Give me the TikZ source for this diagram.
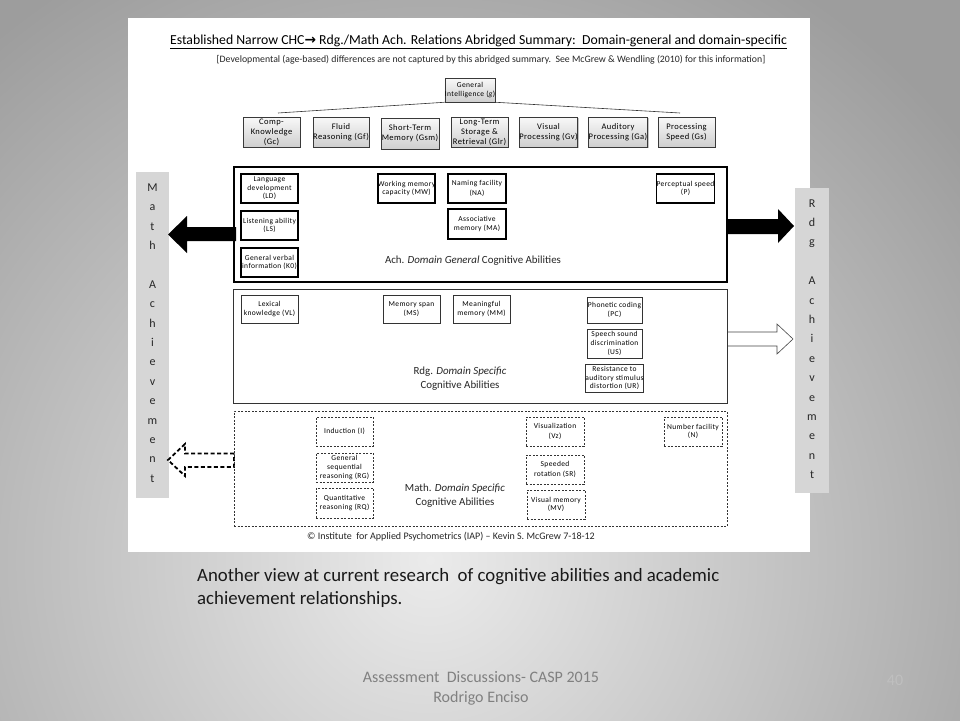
\documentclass[tikz,border=0pt]{standalone}
\usepackage{fontspec}
\setmainfont{Carlito}
\newfontfamily\smallf[LetterSpace=5]{Carlito}
\newfontfamily\dejavu{DejaVu Sans}
\usetikzlibrary{shadows}
\definecolor{bgin}{RGB}{235,235,235}
\definecolor{bgout}{RGB}{157,157,157}
\definecolor{barfill}{RGB}{214,214,214}
\definecolor{foot}{RGB}{128,128,128}
\pgfdeclareradialshading{bgshade}{\pgfpoint{0bp}{0bp}}{color(0bp)=(bgin); color(25bp)=(bgout); color(50bp)=(bgout)}
\begin{document}
\begin{tikzpicture}[x=1pt,y=-1pt,
  chc/.style={draw=gray!45!black, line width=0.5pt, top color=gray!5, bottom color=gray!38,
    drop shadow={shadow xshift=1.3pt, shadow yshift=-1.3pt, opacity=0.45},
    align=center, inner sep=0pt, font=\smallf\fontsize{8.5}{10}\selectfont,
    minimum width=57pt, minimum height=30pt},
  genbox/.style={draw=black, line width=1.6pt, fill=white, align=center, inner sep=0pt,
    font=\smallf\fontsize{7.5}{8.6}\selectfont, minimum width=57pt, minimum height=29pt},
  rdgbox/.style={draw=gray!40!black, line width=0.6pt, fill=white, align=center, inner sep=0pt,
    font=\smallf\fontsize{7.5}{8.6}\selectfont, minimum width=57pt, minimum height=28pt},
  mathbox/.style={draw=black!80, line width=0.7pt, dash pattern=on 2pt off 1.5pt, fill=white,
    align=center, inner sep=0pt, font=\smallf\fontsize{7.5}{8.6}\selectfont,
    minimum width=57pt, minimum height=29pt},
  domlabel/.style={align=center, font=\fontsize{10.9}{14}\selectfont, text=black!85},
  bar/.style={fill=barfill, draw=none, minimum width=33pt, inner sep=0pt},
  barletters/.style={align=center, font=\fontsize{12}{19.4}\selectfont, text=black!85, inner sep=0pt},
]
\useasboundingbox (0,0) rectangle (960,720);
% background
\begin{scope}
\clip (0,0) rectangle (960,720);
\fill[bgout] (0,0) rectangle (960,720);
\shade[shading=bgshade] (430,560) circle (680);
\end{scope}
% white panel
\fill[white] (128,18) rectangle (810,552);

% title
\node[font=\fontsize{13.75}{16}\selectfont] (title) at (478.5,42)
  {\underline{Established Narrow CHC{\dejavu\bfseries →} Rdg./Math Ach. Relations Abridged Summary:\ \ Domain-general and domain-specific}};
\node[font=\fontsize{9.8}{11}\selectfont, text=black!85] (subtitle) at (491,60)
  {[Developmental (age-based) differences are not captured by this abridged summary.\ \ See McGrew \& Wendling (2010) for this information]};

% g box and CHC broad abilities
\node[chc, minimum width=50pt, minimum height=24pt, font=\smallf\fontsize{7.5}{8.6}\selectfont] (g) at (470,90) {General\\Intelligence (\textit{g})};
\coordinate (bl) at (278,113);
\coordinate (br) at (680,113);
\draw[gray!40!black, line width=0.6pt] (bl) -- (g.south west);
\draw[gray!40!black, line width=0.6pt] (g.south east) -- (br);

\node[chc] (Gc) at (271.5,132) {Comp-\\Knowledge\\(Gc)};
\node[chc, minimum width=56pt] (Gf) at (341,132) {Fluid\\Reasoning (Gf)};
\node[chc, minimum width=58pt, minimum height=31pt] (Gsm) at (410,133.5) {Short-Term\\Memory (Gsm)};
\node[chc] (Glr) at (479.5,132) {Long-Term\\Storage \&\\Retrieval (Glr)};
\node[chc] (Gv) at (548.5,132) {Visual\\Processing (Gv)};
\node[chc, minimum width=58pt] (Ga) at (618,132) {Auditory\\Processing (Ga)};
\node[chc] (Gs) at (686.5,132) {Processing\\Speed (Gs)};

% side bars
\node[bar, minimum height=326pt] (mathbar) at (152.5,335) {};
\node[barletters] (mathtxt) at (152.5,333) {M\\a\\t\\h\\\mbox{}\\A\\c\\h\\i\\e\\v\\e\\m\\e\\n\\t};
\node[bar, minimum width=34pt, minimum height=305pt] (rdgbar) at (812,340.5) {};
\node[barletters] (rdgtxt) at (812,339) {R\\d\\g\\\mbox{}\\A\\c\\h\\i\\e\\v\\e\\m\\e\\n\\t};

% arrows
\fill[black] (236,227) -- (187,227) -- (187,216) -- (168,234.5) -- (187,253) -- (187,241) -- (236,241) -- cycle;
\fill[black] (726,219) -- (778,219) -- (778,209) -- (794,226) -- (778,243) -- (778,234) -- (726,234) -- cycle;
\draw[gray!55!black, fill=white, line width=0.6pt] (727,332) -- (777,332) -- (777,324) -- (793,339) -- (777,354) -- (777,346) -- (727,346);
\draw[black, line width=1.8pt, dash pattern=on 4pt off 2.5pt, line join=miter, fill=white]
  (234,453.5) -- (185,453.5) -- (185,444) -- (168,460) -- (185,476) -- (185,467) -- (234,467) -- cycle;

% domain general box
\node[draw=black, line width=1.8pt, minimum width=493pt, minimum height=115pt, inner sep=0pt] (DG) at (480.5,224.5) {};
\node[genbox] (LD) at (269.5,188.5) {Language\\development\\(LD)};
\node[genbox] (LS) at (269.5,225.5) {Listening ability\\(LS)};
\node[genbox] (K0) at (269.5,262.5) {General verbal\\information (K0)};
\node[genbox] (MW) at (406.5,188.5) {Working memory\\capacity (MW)};
\node[genbox, minimum width=58pt] (NA) at (477,188.5) {Naming facility\\[2pt](NA)};
\node[genbox, minimum width=58pt, minimum height=30pt] (MA) at (477,224) {Associative\\memory (MA)};
\node[genbox] (P) at (685.5,188.5) {Perceptual speed\\(P)};
\node[domlabel] (DGlab) at (473,261) {Ach. \textit{Domain General} Cognitive Abilities};

% reading domain specific box
\node[draw=gray!40!black, line width=0.8pt, minimum width=494pt, minimum height=114pt, inner sep=0pt] (RS) at (480,346) {};
\node[rdgbox] (VL) at (269.5,309) {Lexical\\knowledge (VL)};
\node[rdgbox] (MS) at (411.5,309) {Memory span\\(MS)};
\node[rdgbox] (MM) at (481.5,309) {Meaningful\\memory (MM)};
\node[rdgbox, minimum width=55pt, minimum height=26pt] (PC) at (614.5,310) {Phonetic coding\\(PC)};
\node[rdgbox, minimum width=55pt, minimum height=29pt] (US) at (614.5,343.5) {Speech sound\\discrimination\\(US)};
\node[rdgbox, minimum width=55pt, minimum height=28pt] (UR) at (614.5,378) {Resistance to\\auditory stimulus\\distortion (UR)};
\node[domlabel] (RSlab) at (460,379) {Rdg. \textit{Domain Specific}\\Cognitive Abilities};

% math domain specific box
\node[draw=black!80, line width=0.7pt, dash pattern=on 2pt off 1.5pt, minimum width=493pt, minimum height=115pt, inner sep=0pt] (MSB) at (480.5,468.5) {};
\node[mathbox] (I) at (344.5,431.5) {Induction (I)};
\node[mathbox] (RG) at (344.5,467.5) {General\\sequential\\reasoning (RG)};
\node[mathbox, minimum height=30pt] (RQ) at (344.5,503) {Quantitative\\reasoning (RQ)};
\node[mathbox, minimum width=58pt] (Vz) at (555,431.5) {Visualization\\[2pt](Vz)};
\node[mathbox, minimum width=58pt] (SR) at (555,469.5) {Speeded\\[2pt]rotation (SR)};
\node[mathbox, minimum width=58pt] (MV) at (556,504.5) {Visual memory\\(MV)};
\node[mathbox, minimum width=58pt] (N) at (693,431.5) {Number facility\\(N)};
\node[domlabel] (MSlab) at (455,495.5) {Math. \textit{Domain Specific}\\Cognitive Abilities};

% copyright
\node[font=\fontsize{10}{12}\selectfont, text=black!85] (copy) at (451,537) {© Institute\ \ for Applied Psychometrics (IAP) – Kevin S. McGrew 7-18-12};

% caption and footer
\node[anchor=north west, align=left, inner sep=0pt, font=\fontsize{18.8}{23}\selectfont, text=black!90] (caption) at (197,568)
  {Another view at current research\ \ of cognitive abilities and academic\\achievement relationships.};
\node[align=center, font=\fontsize{16}{20}\selectfont, text=foot] (footer) at (481,688) {Assessment\ \ Discussions- CASP 2015\\Rodrigo Enciso};
\node[font=\fontsize{16}{18}\selectfont, text=gray!50] (pagenum) at (895,680) {40};
\end{tikzpicture}
\end{document}
